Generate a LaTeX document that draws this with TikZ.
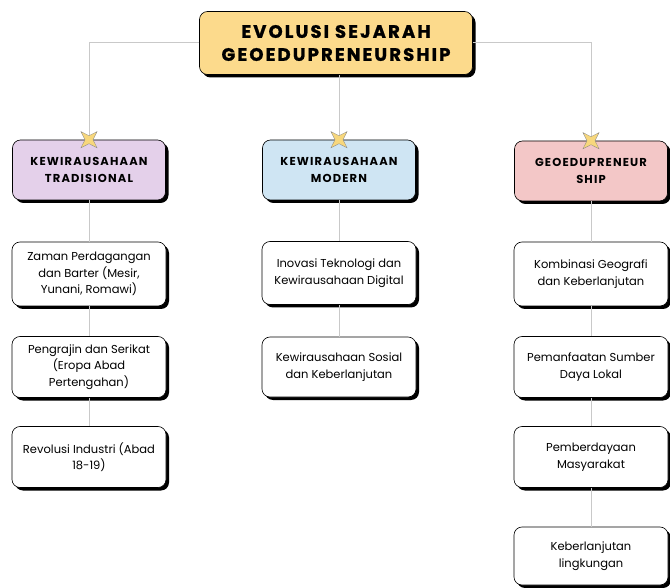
\documentclass[tikz,border=0pt]{standalone}
\usepackage{fontspec}
\setmainfont{Poppins}
\newfontfamily\headfont[LetterSpace=10]{Poppins}
\newfontfamily\judulfont[LetterSpace=12,FakeBold=1.2]{Poppins}
\usetikzlibrary{shadows,shapes.geometric}
\definecolor{titlefill}{HTML}{FCDA8C}
\definecolor{tradfill}{HTML}{E4D0EA}
\definecolor{modfill}{HTML}{CFE5F3}
\definecolor{geofill}{HTML}{F3C7C7}
\definecolor{linegray}{HTML}{C9C9C9}
\definecolor{sparkfill}{HTML}{F7D77C}
\tikzset{
  box/.style={draw=black,line width=0.6pt,rounded corners=8pt,align=center,
    drop shadow={shadow xshift=3pt,shadow yshift=-3pt,fill=black,opacity=1}},
  titlebox/.style={box,fill=titlefill,minimum width=273pt,minimum height=63pt,
    font=\judulfont\bfseries\fontsize{18}{23}\selectfont},
  catbox/.style={box,minimum width=153pt,minimum height=60pt,
    font=\headfont\bfseries\fontsize{11.5}{17}\selectfont},
  leafbox/.style={box,fill=white,minimum width=154pt,minimum height=61pt,
    font=\fontsize{11.5}{16.5}\selectfont},
  link/.style={draw=linegray,line width=1pt},
  spark/.style={star,star points=4,star point ratio=0.35,minimum size=8pt,inner sep=0pt,
    fill=sparkfill,draw=black!50,line width=0.3pt}
}
\begin{document}
\begin{tikzpicture}[x=1pt,y=-1pt]
\useasboundingbox[fill=white](0,0)rectangle(670,588);
%judul
\node[titlebox](judul)at(336,43){EVOLUSI SEJARAH\\GEOEDUPRENEURSHIP};
%kategori
\node[catbox,fill=tradfill](trad)at(89,170){KEWIRAUSAHAAN\\TRADISIONAL};
\node[catbox,fill=modfill](mod)at(339,170){KEWIRAUSAHAAN\\MODERN};
\node[catbox,fill=geofill](geo)at(591,171){GEOEDUPRENEUR\\SHIP};
%tradisional
\node[leafbox,minimum height=64pt](t1)at(89,274){Zaman Perdagangan\\dan Barter (Mesir,\\Yunani, Romawi)};
\node[leafbox](t2)at(89,367){Pengrajin dan Serikat\\(Eropa Abad\\Pertengahan)};
\node[leafbox](t3)at(89,457){Revolusi Industri (Abad\\18-19)};
%modern
\node[leafbox,minimum height=63pt](m1)at(339,273){Inovasi Teknologi dan\\Kewirausahaan Digital};
\node[leafbox,minimum height=60pt](m2)at(339,367){Kewirausahaan Sosial\\dan Keberlanjutan};
%geoedupreneurship
\node[leafbox,minimum height=64pt](g1)at(591,274){Kombinasi Geografi\\dan Keberlanjutan};
\node[leafbox](g2)at(591,367){Pemanfaatan Sumber\\Daya Lokal};
\node[leafbox](g3)at(591,457){Pemberdayaan\\Masyarakat};
\node[leafbox,minimum height=58pt](g4)at(591,556){Keberlanjutan\\lingkungan};
%garis
\begin{scope}[link]
\draw(judul.west)-|(trad.north);
\draw(judul.east)-|(geo.north);
\draw(judul.south-|mod.north)--(mod.north);
\draw(trad.south)--(t1.north)(t1.south)--(t2.north)(t2.south)--(t3.north);
\draw(mod.south)--(m1.north)(m1.south)--(m2.north);
\draw(geo.south)--(g1.north)(g1.south)--(g2.north)(g2.south)--(g3.north)(g3.south)--(g4.north);
\end{scope}
\foreach \n in {trad,mod,geo}\node[spark](s\n)at(\n.north){};
\end{tikzpicture}
\end{document}
